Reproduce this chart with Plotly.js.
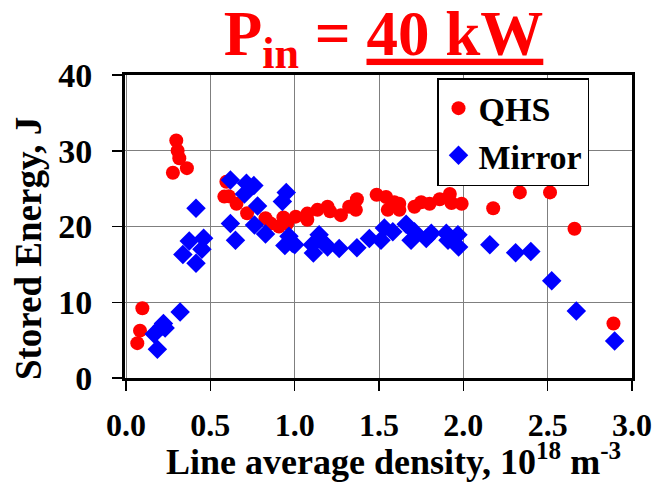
<!DOCTYPE html>
<html>
<head>
<meta charset="utf-8">
<script src="https://cdn.plot.ly/plotly-3.0.1.min.js"></script>
<style>
html, body { margin: 0; padding: 0; background: #ffffff; }
#chart { width: 658px; height: 483px; }
</style>
</head>
<body>
<div id="chart"></div>
<script>
// QHS series: line average density (1e18 m^-3) and stored energy (J)
const qhsDensity = [0.067, 0.083, 0.097, 0.278, 0.298, 0.306, 0.316, 0.361, 0.583, 0.595, 0.609, 0.655, 0.718,
  0.827, 0.857, 0.907, 0.933, 0.956, 1.006, 1.075, 1.075, 1.135, 1.195, 1.21, 1.274, 1.323, 1.363, 1.369,
  1.486, 1.542, 1.552, 1.591, 1.62, 1.621, 1.71, 1.75, 1.80, 1.86, 1.92, 1.93, 1.99, 2.177, 2.335, 2.514,
  2.659, 2.89];
const qhsEnergy = [4.6, 6.25, 9.2, 27.1, 31.35, 30.0, 29.0, 27.7, 23.95, 25.9, 24.0, 23.0, 21.75,
  21.1, 20.4, 20.0, 21.2, 20.4, 21.3, 20.9, 21.7, 22.2, 22.6, 22.0, 21.5, 22.6, 22.2, 23.6,
  24.2, 23.9, 22.2, 23.2, 23.0, 22.2, 22.6, 23.2, 23.0, 23.6, 24.3, 23.1, 23.0, 22.4, 24.5, 24.5,
  19.7, 7.2];

// Mirror series
const mirrorDensity = [0.167, 0.186, 0.212, 0.222, 0.232, 0.321, 0.337, 0.375, 0.415, 0.415, 0.45, 0.46,
  0.619, 0.619, 0.649, 0.702, 0.714, 0.758, 0.762, 0.78, 0.827, 0.927, 0.95, 0.942, 0.966, 0.986, 1.0,
  1.105, 1.111, 1.145, 1.175, 1.195, 1.264, 1.369, 1.443, 1.512, 1.532, 1.582, 1.661, 1.69, 1.71, 1.78,
  1.81, 1.899, 1.909, 1.968, 1.972, 2.157, 2.31, 2.40, 2.524, 2.67, 2.897];
const mirrorEnergy = [5.8, 3.8, 6.8, 7.2, 6.6, 8.7, 16.3, 18.1, 15.15, 22.4, 17.0, 18.45,
  26.15, 20.4, 18.2, 24.3, 25.7, 25.4, 20.2, 22.7, 19.0, 23.3, 24.5, 17.5, 18.7, 17.8, 17.6,
  17.6, 16.5, 18.9, 17.8, 17.3, 17.1, 17.2, 18.4, 18.2, 19.8, 19.3, 20.3, 18.2, 19.3, 18.4,
  19.1, 19.1, 18.2, 18.9, 17.3, 17.6, 16.55, 16.7, 12.85, 8.85, 4.9];

const seriesNames = ['QHS', 'Mirror'];
const xTickVals = [0, 0.5, 1.0, 1.5, 2.0, 2.5, 3.0];
const xTickText = ['0.0', '0.5', '1.0', '1.5', '2.0', '2.5', '3.0'];
const yTickVals = [0, 10, 20, 30, 40];
const titleText = 'P<sub>in</sub> = <u>40 kW</u>';
const xTitleText = 'Line average density, 10<sup>18</sup> m<sup>-3</sup>';
const yTitleText = 'Stored Energy, J';

const serif = 'Liberation Serif, Times New Roman, serif';

const traces = [
  {
    x: qhsDensity, y: qhsEnergy, name: seriesNames[0], type: 'scatter', mode: 'markers',
    marker: { symbol: 'circle', color: '#ff0000', size: 14, line: { width: 0 } },
    cliponaxis: false
  },
  {
    x: mirrorDensity, y: mirrorEnergy, name: seriesNames[1], type: 'scatter', mode: 'markers',
    marker: { symbol: 'diamond', color: '#0000ff', size: 15, line: { width: 0 } },
    cliponaxis: false
  }
];

const layout = {
  width: 658, height: 483,
  margin: { l: 125, r: 26, t: 75, b: 105 },
  paper_bgcolor: '#ffffff', plot_bgcolor: '#ffffff',
  font: { family: serif, color: '#000000', weight: 'bold' },
  title: {
    text: titleText,
    font: { family: serif, size: 63, color: '#ff0000', weight: 'bold' },
    xref: 'paper', x: 0.51, xanchor: 'center',
    yref: 'container', y: 0.978, yanchor: 'top'
  },
  xaxis: {
    range: [-0.006, 3.0],
    tickmode: 'array', tickvals: xTickVals, ticktext: xTickText,
    ticks: 'outside', ticklen: 10, tickwidth: 1.5, tickcolor: '#000000',
    ticklabelstandoff: 7,
    tickfont: { family: serif, size: 32, color: '#000000', weight: 'bold' },
    showgrid: true, gridcolor: '#7f7f7f', gridwidth: 1,
    showline: true, linecolor: '#000000', linewidth: 3, mirror: true,
    zeroline: false
  },
  yaxis: {
    range: [0, 40],
    tickmode: 'array', tickvals: yTickVals,
    ticks: 'outside', ticklen: 10, tickwidth: 1.5, tickcolor: '#000000',
    ticklabelstandoff: 13,
    tickfont: { family: serif, size: 34, color: '#000000', weight: 'bold' },
    showgrid: true, gridcolor: '#7f7f7f', gridwidth: 1,
    showline: true, linecolor: '#000000', linewidth: 3, mirror: true,
    zeroline: false
  },
  annotations: [
    {
      text: xTitleText, showarrow: false,
      xref: 'paper', x: 0.5286, xanchor: 'center',
      yref: 'paper', y: -0.268, yanchor: 'middle',
      font: { family: serif, size: 36, color: '#000000', weight: 'bold' }
    },
    {
      text: yTitleText, showarrow: false, textangle: -90,
      xref: 'paper', x: -0.189, xanchor: 'center',
      yref: 'paper', y: 0.426, yanchor: 'middle',
      font: { family: serif, size: 37, color: '#000000', weight: 'bold' }
    }
  ],
  showlegend: true,
  legend: {
    x: 0.6154, xanchor: 'left', y: 0.99, yanchor: 'top',
    bgcolor: '#ffffff', bordercolor: '#000000', borderwidth: 1.5,
    font: { family: serif, size: 34, color: '#000000', weight: 'bold' },
    tracegroupgap: 0
  }
};

Plotly.newPlot('chart', traces, layout, { staticPlot: true, displayModeBar: false });
</script>
</body>
</html>
